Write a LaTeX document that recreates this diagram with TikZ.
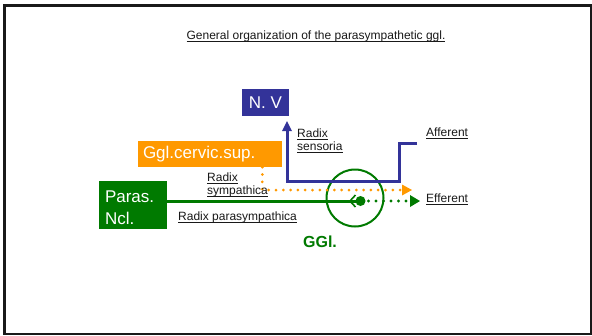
\documentclass[tikz,border=0pt]{standalone}
\usepackage{fontspec}
\setmainfont{Liberation Sans}
\usetikzlibrary{arrows.meta}
\definecolor{ggreen}{RGB}{0,122,0}
\definecolor{gorange}{RGB}{255,153,0}
\definecolor{gblue}{RGB}{51,51,153}
\newcommand\myul[1]{\setbox0\hbox{#1}\rlap{\rule[-2.4pt]{\wd0}{0.8pt}}\box0}
\tikzset{
  bigbox/.style={draw=none, inner ysep=0pt, text=white, font=\fontsize{17}{22}\selectfont},
  lbl/.style={inner sep=0pt, text=black!90, font=\fontsize{12}{13.2}\selectfont, align=left},
  gline/.style={draw=ggreen, line width=3pt},
  gdots/.style={draw=ggreen, line width=3.2pt, line cap=round, dash pattern=on 0pt off 7.5pt,
    -{Triangle[length=10pt,width=12pt,line width=0pt]}},
  odots/.style={draw=gorange, line width=3pt, line cap=round, dash pattern=on 0pt off 7.3pt,
    -{Triangle[length=10pt,width=11pt,line width=0pt]}},
  bline/.style={draw=gblue, line width=3pt, -{Triangle[length=10pt,width=10pt,line width=0pt]}},
}
\begin{document}
\begin{tikzpicture}[x=1pt,y=-1pt]
\useasboundingbox (0,0) rectangle (592,335);
\fill[white] (0,0) rectangle (592,335);
\draw[line width=2.5pt, black!90] (4.6,5.6) rectangle (591.2,333.8);

\node[lbl, font=\fontsize{12}{14}\selectfont] (title) at (316,36) {\myul{General organization of the parasympathetic ggl.}};

% boxes
\node[bigbox, fill=gblue, minimum width=47pt, minimum height=27pt] (nv) at (265.5,102.5) {N. V};
\node[bigbox, fill=gorange, minimum width=144pt, minimum height=26pt, inner xsep=5pt, text width=134pt, align=left] (cerv) at (210,154) {Ggl.cervic.sup.};
\node[bigbox, fill=ggreen, minimum width=68pt, minimum height=48pt, inner xsep=6pt, text width=56pt, align=left] (paras) at (133,205) {\rule{0pt}{16.4pt}Paras.\\Ncl.};

% ganglion
\node[circle, draw=ggreen, line width=2pt, minimum size=57pt, inner sep=0pt] (ggl) at (355,198) {};
\node[inner sep=0pt, text=ggreen, font=\fontsize{16}{20}\selectfont\bfseries] (ggllbl) at (320,242) {GGl.};

% coordinates
\coordinate (syn) at (360.5,201);
\coordinate (gtip) at (420,201);
\coordinate (otip) at (412,190);
\coordinate (aff) at (417,143);
\coordinate (btip) at ([xshift=21.5pt,yshift=-5pt]nv.south);

% blue afferent / radix sensoria
\draw[bline] (aff) -| (399,181) -| (btip);

% orange sympathetic
\draw[odots] ([xshift=124.5pt]cerv.south west) |- (otip);

% green parasympathetic
\draw[gline] (paras.east |- syn) -- (syn);
\draw[ggreen, line width=1.6pt] ([shift={(-5pt,-6pt)}]syn) -- ([shift={(-10.5pt,0pt)}]syn) -- ([shift={(-5pt,6pt)}]syn);
\fill[ggreen] (syn) circle (5pt);
\draw[gdots] ([xshift=8pt]syn) -- (gtip);

% labels
\node[lbl, anchor=west] (lsens) at (297,141) {\myul{Radix}\\\myul{sensoria}};
\node[lbl, anchor=west] (laff) at (426,133) {\myul{Afferent}};
\node[lbl, anchor=west] (leff) at (426,199) {\myul{Efferent}};
\node[lbl, anchor=west] (lsym) at (207,185) {\myul{Radix}\\\myul{sympathica}};
\node[lbl, anchor=west] (lpar) at (178,217) {\myul{Radix parasympathica}};
\end{tikzpicture}
\end{document}
